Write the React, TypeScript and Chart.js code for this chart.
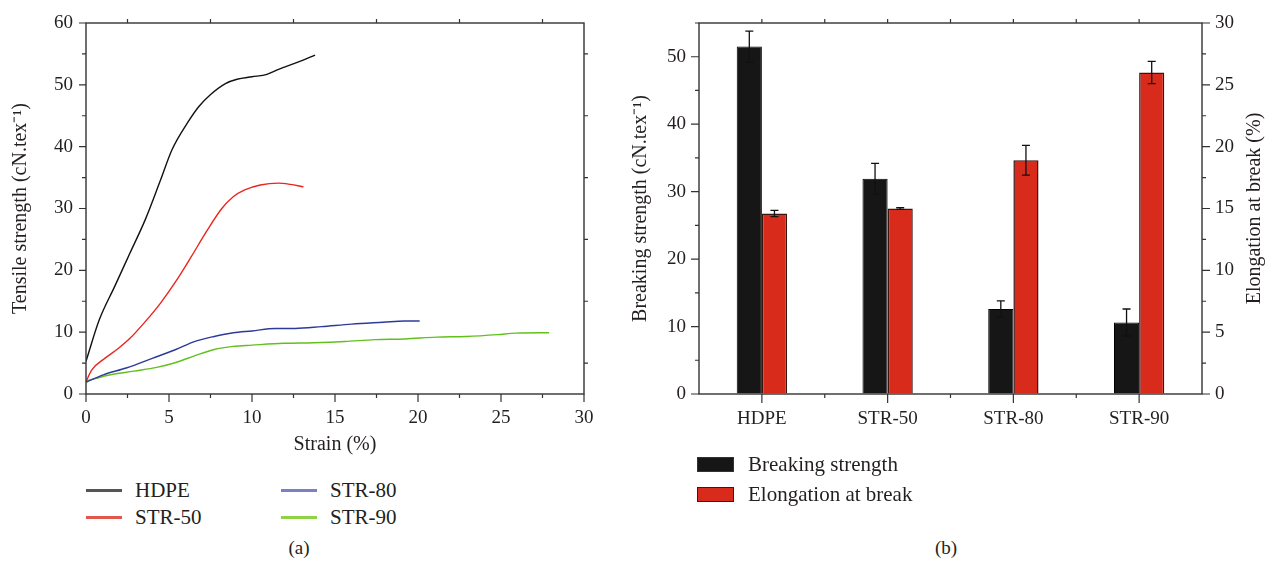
import React, { useEffect, useRef } from 'react';
import { Chart, registerables } from 'chart.js';
Chart.register(...registerables);

const FONT = "'Liberation Serif', 'Times New Roman', serif";
const TEXT = '#231f20';
const AXIS = '#333333';

// ---------- Panel (a): stress-strain curves ----------
const hdpeStrain = [0, 0.8, 1.73, 2.65, 3.57, 4.49, 5.18, 6.1, 6.8, 7.49, 8.4, 9.1, 10.0, 10.9, 11.6, 12.8, 13.8];
const hdpeStrength = [5.3, 12.0, 17.4, 22.8, 28.2, 34.6, 39.5, 43.8, 46.5, 48.4, 50.2, 50.9, 51.3, 51.7, 52.5, 53.7, 54.8];

const str50Strain = [0, 0.35, 1.15, 1.96, 2.65, 3.57, 4.49, 5.41, 6.34, 7.26, 8.18, 8.87, 9.56, 10.5, 11.6, 12.3, 13.1];
const str50Strength = [2.0, 3.9, 5.8, 7.4, 9.0, 11.7, 14.7, 18.2, 22.2, 26.3, 30.0, 31.9, 33.0, 33.8, 34.1, 33.9, 33.5];

const str80Strain = [0, 1.04, 2.42, 4.03, 5.41, 6.57, 7.72, 8.87, 10.0, 11.4, 12.6, 14.2, 16.0, 17.9, 19.2, 20.1];
const str80Strength = [1.9, 3.1, 4.2, 5.8, 7.2, 8.5, 9.3, 9.9, 10.2, 10.6, 10.6, 10.9, 11.3, 11.6, 11.8, 11.8];

const str90Strain = [0, 1.27, 2.88, 4.26, 5.41, 6.57, 7.72, 8.87, 10.0, 11.9, 13.7, 15.6, 17.4, 19.2, 21.1, 22.9, 24.8, 25.9, 27.9];
const str90Strength = [2.1, 3.0, 3.7, 4.3, 5.1, 6.2, 7.2, 7.7, 7.9, 8.2, 8.3, 8.5, 8.8, 8.9, 9.2, 9.3, 9.6, 9.85, 9.9];

const strainMajorTicks = [0, 5, 10, 15, 20, 25, 30];
const strainMinorTicks = [2.5, 7.5, 12.5, 17.5, 22.5, 27.5];
const tensileMajorTicks = [0, 10, 20, 30, 40, 50, 60];
const tensileMinorTicks = [5, 15, 25, 35, 45, 55];

// ---------- Panel (b): bar chart ----------
const categories = ['HDPE', 'STR-50', 'STR-80', 'STR-90'];
const breakingStrength = [51.5, 31.9, 12.6, 10.6];
const breakingStrengthErr = [2.3, 2.3, 1.2, 2.0];
const elongation = [14.6, 15.0, 18.9, 26.0];
const elongationErr = [0.25, 0.07, 1.2, 0.9];

const breakingMajorTicks = [0, 10, 20, 30, 40, 50];
const breakingMinorTicks = [5, 15, 25, 35, 45, 55];
const elongationMajorTicks = [0, 5, 10, 15, 20, 25, 30];
const elongationMinorTicks = [2.5, 7.5, 12.5, 17.5, 22.5, 27.5];
const categoryCenters = [0, 1, 2, 3];
const categoryBounds = [0.5, 1.5, 2.5];

type TickSpec = { scale: string; side: 'left' | 'right' | 'top' | 'bottom'; values: number[]; len: number };

const framePlugin = {
  id: 'frameTicks',
  afterDraw(chart: any, _args: any, opts: any) {
    const { ctx, chartArea: a } = chart;
    ctx.save();
    ctx.strokeStyle = AXIS;
    ctx.lineWidth = 1.4;
    ctx.strokeRect(a.left, a.top, a.right - a.left, a.bottom - a.top);
    ctx.lineWidth = 1.2;
    ctx.beginPath();
    for (const t of (opts.ticks || []) as TickSpec[]) {
      const s = chart.scales[t.scale];
      for (const v of t.values) {
        const p = s.getPixelForValue(v);
        if (t.side === 'left') { ctx.moveTo(a.left, p); ctx.lineTo(a.left - t.len, p); }
        if (t.side === 'right') { ctx.moveTo(a.right, p); ctx.lineTo(a.right + t.len, p); }
        if (t.side === 'bottom') { ctx.moveTo(p, a.bottom); ctx.lineTo(p, a.bottom + t.len); }
        if (t.side === 'top') { ctx.moveTo(p, a.top); ctx.lineTo(p, a.top - t.len); }
      }
    }
    ctx.stroke();
    ctx.restore();
  },
};

const errorBarPlugin = {
  id: 'errorBars',
  afterDatasetsDraw(chart: any, _args: any, opts: any) {
    const { ctx } = chart;
    const errs: number[][] = opts.errors || [];
    ctx.save();
    ctx.strokeStyle = '#111';
    ctx.lineWidth = 1.3;
    chart.data.datasets.forEach((ds: any, i: number) => {
      const e = errs[i];
      if (!e) return;
      const meta = chart.getDatasetMeta(i);
      const scale = chart.scales[ds.yAxisID];
      meta.data.forEach((bar: any, j: number) => {
        const v = ds.data[j];
        const yt = scale.getPixelForValue(v + e[j]);
        const yb = scale.getPixelForValue(v - e[j]);
        const x = bar.x;
        ctx.beginPath();
        ctx.moveTo(x, yt); ctx.lineTo(x, yb);
        ctx.moveTo(x - 4, yt); ctx.lineTo(x + 4, yt);
        ctx.moveTo(x - 4, yb); ctx.lineTo(x + 4, yb);
        ctx.stroke();
      });
    });
    ctx.restore();
  },
};

const rightTitlePlugin = {
  id: 'rightTitle',
  afterDraw(chart: any, _args: any, opts: any) {
    const { ctx, chartArea: a } = chart;
    const s = chart.scales[opts.scale];
    ctx.save();
    ctx.fillStyle = TEXT;
    ctx.font = `20px ${FONT}`;
    ctx.textAlign = 'center';
    ctx.textBaseline = 'middle';
    ctx.translate(s.right - 11, (a.top + a.bottom) / 2);
    ctx.rotate(-Math.PI / 2);
    ctx.fillText(opts.text, 0, 0);
    ctx.restore();
  },
};

const pts = (xs: number[], ys: number[]) => xs.map((x, i) => ({ x, y: ys[i] }));

const tickFont = { family: FONT, size: 19 };
const titleFont = { family: FONT, size: 20 };

function LineChart() {
  const ref = useRef<HTMLCanvasElement>(null);
  useEffect(() => {
    const mk = (label: string, xs: number[], ys: number[], color: string) => ({
      label,
      data: pts(xs, ys),
      borderColor: color,
      backgroundColor: color,
      borderWidth: 1.4,
      pointRadius: 0,
      cubicInterpolationMode: 'monotone' as const,
      fill: false,
    });
    const chart = new Chart(ref.current!, {
      type: 'line',
      data: {
        datasets: [
          mk('HDPE', hdpeStrain, hdpeStrength, '#111111'),
          mk('STR-50', str50Strain, str50Strength, '#e8261e'),
          mk('STR-80', str80Strain, str80Strength, '#2e3a9a'),
          mk('STR-90', str90Strain, str90Strength, '#62c01c'),
        ],
      },
      options: {
        animation: false,
        responsive: false,
        layout: { padding: { left: 5, top: 23, right: 36, bottom: 0 } },
        plugins: {
          legend: { display: false },
          tooltip: { enabled: false },
          frameTicks: {
            ticks: [
              { scale: 'x', side: 'bottom', values: strainMajorTicks, len: 8 },
              { scale: 'x', side: 'bottom', values: strainMinorTicks, len: 4 },
              { scale: 'x', side: 'top', values: strainMinorTicks, len: 4 },
              { scale: 'y', side: 'left', values: tensileMajorTicks, len: 7 },
              { scale: 'y', side: 'left', values: tensileMinorTicks, len: 4 },
              { scale: 'y', side: 'right', values: tensileMinorTicks, len: 4 },
            ],
          },
        } as any,
        scales: {
          x: {
            type: 'linear',
            min: 0,
            max: 30,
            ticks: { stepSize: 5, font: tickFont, color: TEXT, padding: 5, maxRotation: 0 },
            grid: { color: 'rgba(0,0,0,0)', drawOnChartArea: false, tickLength: 8 },
            border: { display: false },
            title: { display: true, text: 'Strain (%)', font: titleFont, color: TEXT },
            afterFit: (s: any) => { s.height = 67; },
          },
          y: {
            type: 'linear',
            min: 0,
            max: 60,
            ticks: { stepSize: 10, font: tickFont, color: TEXT, padding: 5 },
            grid: { color: 'rgba(0,0,0,0)', drawOnChartArea: false, tickLength: 8 },
            border: { display: false },
            title: { display: true, text: 'Tensile strength (cN.tex⁻¹)', font: titleFont, color: TEXT },
            afterFit: (s: any) => { s.width = 81; },
          },
        },
      },
      plugins: [framePlugin],
    });
    return () => chart.destroy();
  }, []);
  return <canvas ref={ref} width={620} height={461} style={{ position: 'absolute', left: 0, top: 0, width: 620, height: 461 }} />;
}

function BarChart() {
  const ref = useRef<HTMLCanvasElement>(null);
  useEffect(() => {
    const chart = new Chart(ref.current!, {
      type: 'bar',
      data: {
        labels: categories,
        datasets: [
          {
            label: 'Breaking strength',
            data: breakingStrength,
            yAxisID: 'y',
            backgroundColor: '#161616',
            borderColor: '#000000',
            borderWidth: 1,
            categoryPercentage: 0.4,
            barPercentage: 1.0,
          },
          {
            label: 'Elongation at break',
            data: elongation,
            yAxisID: 'y1',
            backgroundColor: '#d92b1c',
            borderColor: '#3a1510',
            borderWidth: 1.5,
            categoryPercentage: 0.4,
            barPercentage: 1.0,
          },
        ],
      },
      options: {
        animation: false,
        responsive: false,
        layout: { padding: { left: 5, top: 23, right: 0, bottom: 0 } },
        plugins: {
          legend: { display: false },
          tooltip: { enabled: false },
          errorBars: { errors: [breakingStrengthErr, elongationErr] },
          rightTitle: { scale: 'y1', text: 'Elongation at break (%)' },
          frameTicks: {
            ticks: [
              { scale: 'x', side: 'bottom', values: categoryCenters, len: 9 },
              { scale: 'x', side: 'bottom', values: categoryBounds, len: 4 },
              { scale: 'x', side: 'top', values: categoryCenters, len: 4 },
              { scale: 'x', side: 'top', values: categoryBounds, len: 4 },
              { scale: 'y', side: 'left', values: breakingMajorTicks, len: 8 },
              { scale: 'y', side: 'left', values: breakingMinorTicks, len: 4 },
              { scale: 'y1', side: 'right', values: elongationMajorTicks, len: 8 },
              { scale: 'y1', side: 'right', values: elongationMinorTicks, len: 4 },
            ],
          },
        } as any,
        scales: {
          x: {
            type: 'category',
            ticks: { font: tickFont, color: TEXT, padding: 5, maxRotation: 0 },
            grid: { color: 'rgba(0,0,0,0)', drawOnChartArea: false, tickLength: 9 },
            border: { display: false },
            afterFit: (s: any) => { s.height = 67; },
          },
          y: {
            type: 'linear',
            position: 'left',
            min: 0,
            max: 55,
            ticks: { stepSize: 10, includeBounds: false, font: tickFont, color: TEXT, padding: 5 },
            grid: { color: 'rgba(0,0,0,0)', drawOnChartArea: false, tickLength: 8 },
            border: { display: false },
            title: { display: true, text: 'Breaking strength (cN.tex⁻¹)', font: titleFont, color: TEXT },
            afterFit: (s: any) => { s.width = 74; },
          },
          y1: {
            type: 'linear',
            position: 'right',
            min: 0,
            max: 30,
            ticks: { stepSize: 5, font: tickFont, color: TEXT, padding: 5 },
            grid: { color: 'rgba(0,0,0,0)', drawOnChartArea: false, tickLength: 8 },
            border: { display: false },
            afterFit: (s: any) => { s.width = 64; },
          },
        },
      },
      plugins: [framePlugin, errorBarPlugin, rightTitlePlugin],
    });
    return () => chart.destroy();
  }, []);
  return <canvas ref={ref} width={646} height={461} style={{ position: 'absolute', left: 620, top: 0, width: 646, height: 461 }} />;
}

const lineLegend = [
  { label: 'HDPE', color: '#555555', x: 86, y: 490 },
  { label: 'STR-50', color: '#e2574c', x: 86, y: 517 },
  { label: 'STR-80', color: '#7a7fc6', x: 281, y: 490 },
  { label: 'STR-90', color: '#8ed245', x: 281, y: 517 },
];

const barLegend = [
  { label: 'Breaking strength', color: '#161616', border: '#333', y: 464 },
  { label: 'Elongation at break', color: '#d92b1c', border: '#222', y: 494 },
];

const textStyle: React.CSSProperties = {
  position: 'absolute',
  fontFamily: FONT,
  fontSize: 21,
  color: TEXT,
  lineHeight: '24px',
  height: 24,
  whiteSpace: 'nowrap',
};

export default function App() {
  return (
    <div style={{ position: 'absolute', left: 0, top: 0, width: 1266, height: 565, background: '#fff', overflow: 'hidden' }}>
      <LineChart />
      <BarChart />
      {lineLegend.map((l) => (
        <React.Fragment key={l.label}>
          <div style={{ position: 'absolute', left: l.x, top: l.y - 1, width: 36, height: 2.5, background: l.color }} />
          <div style={{ ...textStyle, left: l.x + 49, top: l.y - 12 }}>{l.label}</div>
        </React.Fragment>
      ))}
      {barLegend.map((l) => (
        <React.Fragment key={l.label}>
          <div style={{ position: 'absolute', left: 697, top: l.y - 7.5, width: 35, height: 13, background: l.color, border: `1.2px solid ${l.border}` }} />
          <div style={{ ...textStyle, left: 748, top: l.y - 12 }}>{l.label}</div>
        </React.Fragment>
      ))}
      <div style={{ ...textStyle, fontSize: 19, left: 259, width: 80, textAlign: 'center', top: 536 }}>(a)</div>
      <div style={{ ...textStyle, fontSize: 19, left: 906, width: 80, textAlign: 'center', top: 536 }}>(b)</div>
    </div>
  );
}
